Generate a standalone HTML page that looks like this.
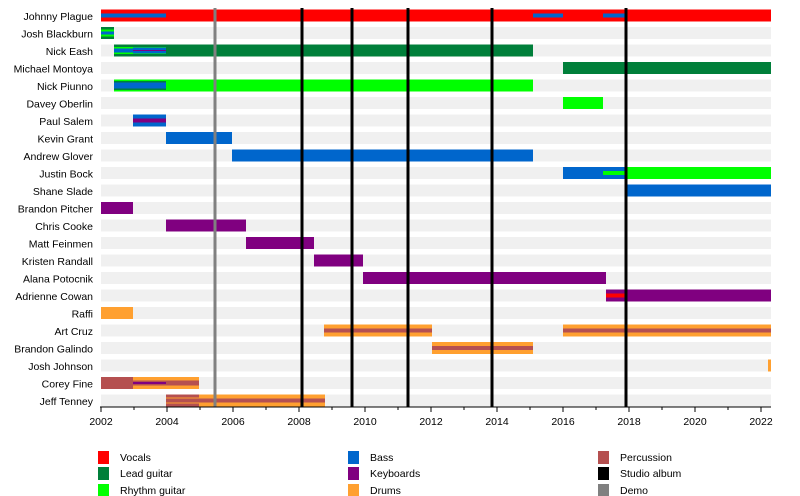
<!DOCTYPE html>
<html><head><meta charset="utf-8"><style>
html,body{margin:0;padding:0;background:#fff;}
svg{display:block;font-family:"Liberation Sans",sans-serif;font-size:10.5px;}
</style></head><body>
<svg width="800" height="496" xmlns="http://www.w3.org/2000/svg">
<g id="bg"></g>
<g id="bars"></g>
<g id="lines"></g>
<g font-size="10.5" text-anchor="end" fill="#000">
<text x="93" y="20">Johnny Plague</text>
<text x="93" y="37.5">Josh Blackburn</text>
<text x="93" y="55">Nick Eash</text>
<text x="93" y="72.5">Michael Montoya</text>
<text x="93" y="90">Nick Piunno</text>
<text x="93" y="107.5">Davey Oberlin</text>
<text x="93" y="125">Paul Salem</text>
<text x="93" y="142.5">Kevin Grant</text>
<text x="93" y="160">Andrew Glover</text>
<text x="93" y="177.5">Justin Bock</text>
<text x="93" y="195">Shane Slade</text>
<text x="93" y="212.5">Brandon Pitcher</text>
<text x="93" y="230">Chris Cooke</text>
<text x="93" y="247.5">Matt Feinmen</text>
<text x="93" y="265">Kristen Randall</text>
<text x="93" y="282.5">Alana Potocnik</text>
<text x="93" y="300">Adrienne Cowan</text>
<text x="93" y="317.5">Raffi</text>
<text x="93" y="335">Art Cruz</text>
<text x="93" y="352.5">Brandon Galindo</text>
<text x="93" y="370">Josh Johnson</text>
<text x="93" y="387.5">Corey Fine</text>
<text x="93" y="405">Jeff Tenney</text>
</g>
<g font-size="10.5" text-anchor="middle">
<text x="101" y="425">2002</text><text x="167" y="425">2004</text><text x="233" y="425">2006</text>
<text x="299" y="425">2008</text><text x="365" y="425">2010</text><text x="431" y="425">2012</text>
<text x="497" y="425">2014</text><text x="563" y="425">2016</text><text x="629" y="425">2018</text>
<text x="695" y="425">2020</text><text x="761" y="425">2022</text>
</g>
<g id="ticks"></g>
<g font-size="10.5">
<rect x="98" y="451" width="11" height="13" fill="#ff0000"/><text x="120" y="461">Vocals</text>
<rect x="98" y="467" width="11" height="13" fill="#007f3a"/><text x="120" y="477">Lead guitar</text>
<rect x="98" y="484" width="11" height="13" fill="#00ff00"/><text x="120" y="494">Rhythm guitar</text>
<rect x="348" y="451" width="11" height="13" fill="#0066cc"/><text x="370" y="461">Bass</text>
<rect x="348" y="467" width="11" height="13" fill="#800080"/><text x="370" y="477">Keyboards</text>
<rect x="348" y="484" width="11" height="13" fill="#ffa030"/><text x="370" y="494">Drums</text>
<rect x="598" y="451" width="11" height="13" fill="#b55050"/><text x="620" y="461">Percussion</text>
<rect x="598" y="467" width="11" height="13" fill="#000"/><text x="620" y="477">Studio album</text>
<rect x="598" y="484" width="11" height="13" fill="#808080"/><text x="620" y="494">Demo</text>
</g>
<script>
var NS="http://www.w3.org/2000/svg";
function R(g,x1,x2,y,h,c){var r=document.createElementNS(NS,"rect");r.setAttribute("x",x1);r.setAttribute("y",y);r.setAttribute("width",x2-x1);r.setAttribute("height",h);r.setAttribute("fill",c);document.getElementById(g).appendChild(r);}
function L(g,x1,y1,x2,y2,c,w){var l=document.createElementNS(NS,"line");l.setAttribute("x1",x1);l.setAttribute("y1",y1);l.setAttribute("x2",x2);l.setAttribute("y2",y2);l.setAttribute("stroke",c);l.setAttribute("stroke-width",w);document.getElementById(g).appendChild(l);}
var V="#ff0000",LG="#007f3a",RG="#00ff00",B="#0066cc",K="#800080",D="#ffa030",P="#b55050";
function cy(i){return 15.5+17.5*i;}
for(var i=0;i<23;i++){R("bg",101,771,cy(i)-6,12,"#f0f0f0");}
function bar(i,x1,x2,c){R("bars",x1,x2,cy(i)-6,12,c);}
function st(i,x1,x2,c,h){h=h||4;R("bars",x1,x2,cy(i)-h/2,h,c);}
bar(0,101,771,V);st(0,101,166,B);st(0,533,563,B);st(0,603,626,B);
bar(1,101,114,LG);st(1,101,114,RG,7);st(1,101,114,B,3);
bar(2,114,533,LG);st(2,114,166,RG,7);st(2,114,166,B,4);st(2,133,166,B,6);st(2,133,166,K,1);
bar(3,563,771,LG);
bar(4,114,533,RG);st(4,114,166,LG,9);st(4,114,166,B,6);
bar(5,563,603,RG);
bar(6,133,166,B);st(6,133,166,K,4);
bar(7,166,232,B);
bar(8,232,533,B);
bar(9,563,626,B);bar(9,626,771,RG);st(9,603,626,RG,4);
bar(10,626,771,B);
bar(11,101,133,K);
bar(12,166,246,K);
bar(13,246,314,K);
bar(14,314,363,K);
bar(15,363,606,K);
bar(16,606,771,K);st(16,606,626,V,4);
bar(17,101,133,D);
bar(18,324,432,D);st(18,324,432,P,4);bar(18,563,771,D);st(18,563,771,P,4);
bar(19,432,533,D);st(19,432,533,P,4);
bar(20,768,771,D);
bar(21,101,133,P);bar(21,133,199,D);st(21,133,199,P,5);st(21,133,166,K,2);
bar(22,166,325,D);st(22,166,325,P,4);R("bars",166,199,cy(22)-6,3,P);R("bars",166,199,cy(22)+3,3,P);
L("lines",215,8,215,407,"#808080",3);
[302,352,408,492,626].forEach(function(x){L("lines",x,8,x,407,"#000",3);});
L("ticks",100,407,771,407,"#000",1);
for(var y=0;y<=20;y++){var x=101+33*y;L("ticks",x,407,x,y%2?410:412,"#000",1);}
</script>
</svg>
</body></html>
